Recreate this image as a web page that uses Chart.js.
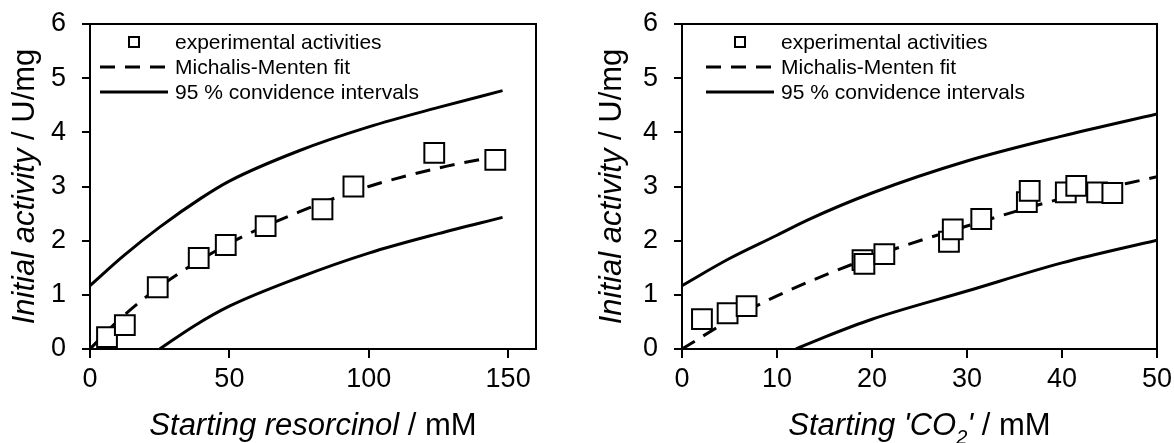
<!DOCTYPE html>
<html lang="en">
<head>
<meta charset="UTF-8">
<title>Initial activity vs. substrate</title>
<script src="https://cdn.jsdelivr.net/npm/chart.js@4/dist/chart.umd.min.js"></script>
<style>
  body { margin: 0; background: #fff; }
  #wrap { position: relative; width: 1174px; height: 443px; }
  canvas { position: absolute; top: 0; }
</style>
</head>
<body>
<div id="wrap">
  <canvas id="leftChart" width="587" height="443" style="left:0"></canvas>
  <canvas id="rightChart" width="587" height="443" style="left:587px"></canvas>
</div>
<script>
// left panel - starting resorcinol (mM)
const resX = [6.1, 12.5, 24.3, 39, 48.7, 63, 83.4, 94.5, 123.5, 145.4];
const resY = [0.22, 0.44, 1.14, 1.68, 1.92, 2.27, 2.58, 3.0, 3.62, 3.49];
const resFitX = [0, 10, 25, 50, 75, 100, 125, 148];
const resFitY = [0, 0.52, 1.15, 1.95, 2.53, 3.0, 3.34, 3.58];
const resUpX = [0, 12, 25, 40, 50, 75, 100, 125, 148];
const resUpY = [1.17, 1.72, 2.25, 2.79, 3.1, 3.66, 4.1, 4.46, 4.77];
const resLoX = [25, 37.5, 50, 75, 100, 125, 148];
const resLoY = [0, 0.43, 0.79, 1.32, 1.77, 2.13, 2.43];

// right panel - starting 'CO2' (mM)
const co2X = [2.1, 4.8, 6.8, 19.0, 19.2, 21.3, 28.1, 28.5, 31.5, 36.3, 36.6, 40.4, 41.5, 43.7, 45.3];
const co2Y = [0.55, 0.66, 0.79, 1.64, 1.57, 1.75, 1.98, 2.21, 2.4, 2.71, 2.92, 2.89, 3.01, 2.89, 2.88];
const co2FitX = [0, 5, 10, 20, 30, 40, 50];
const co2FitY = [0, 0.53, 0.98, 1.7, 2.27, 2.78, 3.18];
const co2UpX = [0, 5, 10, 13.2, 20, 30, 40, 50];
const co2UpY = [1.17, 1.67, 2.1, 2.38, 2.88, 3.47, 3.93, 4.34];
const co2LoX = [12, 15, 20, 30, 40, 50];
const co2LoY = [0, 0.22, 0.55, 1.07, 1.59, 2.01];

const legendLabels = ['experimental activities', 'Michalis-Menten fit', '95 % convidence intervals'];

const FONT = "'Liberation Sans', Arial, sans-serif";

function pts(xs, ys) {
    return xs.map((x, i) => ({ x: x, y: ys[i] }));
}

function drawRuns(ctx, runs, cx, y, size) {
    const fontOf = r => (r.italic ? 'italic ' : '') + (r.sub ? Math.round(size * 0.65) : size) + 'px ' + FONT;
    let total = 0;
    runs.forEach(r => { ctx.font = fontOf(r); total += ctx.measureText(r.t).width; });
    let x = cx - total / 2;
    ctx.textAlign = 'left';
    ctx.textBaseline = 'alphabetic';
    runs.forEach(r => {
        ctx.font = fontOf(r);
        ctx.fillText(r.t, x, r.sub ? y + size * 0.28 : y);
        x += ctx.measureText(r.t).width;
    });
}

// frame, axis titles and the in-plot legend
const decor = {
    id: 'decor',
    afterDraw(chart, args, o) {
        const ctx = chart.ctx;
        const a = chart.chartArea;
        ctx.save();
        ctx.strokeStyle = '#000';
        ctx.fillStyle = '#000';
        ctx.lineWidth = 2;
        ctx.beginPath();
        ctx.moveTo(a.left, a.top);
        ctx.lineTo(a.right, a.top);
        ctx.lineTo(a.right, a.bottom);
        ctx.stroke();

        drawRuns(ctx, o.xTitle, (a.left + a.right) / 2, 435, 31);

        // legend
        const lx = a.left + o.legendX;
        const rows = [42, 67, 92];
        ctx.lineWidth = 2;
        ctx.fillStyle = '#fff';
        ctx.fillRect(lx + 34 - 5, rows[0] - 5, 10, 10);
        ctx.strokeRect(lx + 34 - 5, rows[0] - 5, 10, 10);
        ctx.lineWidth = 3;
        ctx.setLineDash([15, 10]);
        ctx.beginPath();
        ctx.moveTo(lx, rows[1]);
        ctx.lineTo(lx + 68, rows[1]);
        ctx.stroke();
        ctx.setLineDash([]);
        ctx.beginPath();
        ctx.moveTo(lx, rows[2]);
        ctx.lineTo(lx + 68, rows[2]);
        ctx.stroke();
        ctx.fillStyle = '#000';
        ctx.font = '21px ' + FONT;
        ctx.textAlign = 'left';
        ctx.textBaseline = 'middle';
        legendLabels.forEach((t, i) => ctx.fillText(t, lx + 75, rows[i] + 1));

        ctx.translate(34, (a.top + a.bottom) / 2);
        ctx.rotate(-Math.PI / 2);
        ctx.fillStyle = '#000';
        drawRuns(ctx, o.yTitle, 0, 0, 31);
        ctx.restore();
    }
};

function makeChart(id, cfg) {
    const line = (data, dash) => ({
        data: data,
        showLine: true,
        borderColor: '#000',
        borderWidth: 3,
        borderDash: dash,
        pointRadius: 0,
        cubicInterpolationMode: 'monotone'
    });
    return new Chart(document.getElementById(id), {
        type: 'scatter',
        data: {
            datasets: [
                {
                    data: pts(cfg.x, cfg.y),
                    pointStyle: 'rect',
                    pointRadius: 14,
                    pointBorderWidth: 2,
                    pointBorderColor: '#000',
                    pointBackgroundColor: '#fff'
                },
                line(pts(cfg.fitX, cfg.fitY), [15, 10]),
                line(pts(cfg.upX, cfg.upY), []),
                line(pts(cfg.loX, cfg.loY), [])
            ]
        },
        options: {
            responsive: false,
            animation: false,
            devicePixelRatio: 1,
            layout: { padding: { top: 24, right: cfg.padRight, left: 0, bottom: 0 } },
            plugins: {
                legend: { display: false },
                tooltip: { enabled: false },
                decor: { xTitle: cfg.xTitle, yTitle: cfg.yTitle, legendX: cfg.legendX }
            },
            scales: {
                x: {
                    type: 'linear',
                    min: 0,
                    max: cfg.xMax,
                    ticks: {
                        stepSize: cfg.xStep,
                        includeBounds: false,
                        color: '#000',
                        font: { family: FONT, size: 27 },
                        padding: 5,
                        maxRotation: 0
                    },
                    grid: { drawOnChartArea: false, tickLength: 9, color: '#000', lineWidth: 2 },
                    border: { color: '#000', width: 2 },
                    afterFit: s => { s.height = 94; s.paddingLeft = 0; s.paddingRight = 0; }
                },
                y: {
                    min: 0,
                    max: 6,
                    ticks: {
                        stepSize: 1,
                        color: '#000',
                        font: { family: FONT, size: 27 },
                        padding: 16
                    },
                    grid: { drawOnChartArea: false, tickLength: 8, color: '#000', lineWidth: 2 },
                    border: { color: '#000', width: 2 },
                    afterFit: s => { s.width = cfg.yWidth; s.paddingTop = 0; s.paddingBottom = 0; }
                }
            }
        },
        plugins: [decor]
    });
}

makeChart('leftChart', {
    x: resX, y: resY, fitX: resFitX, fitY: resFitY,
    upX: resUpX, upY: resUpY, loX: resLoX, loY: resLoY,
    xMax: 160, xStep: 50, yWidth: 90, padRight: 51, legendX: 10,
    xTitle: [{ t: 'Starting resorcinol', italic: true }, { t: ' / mM' }],
    yTitle: [{ t: 'Initial activity', italic: true }, { t: ' / U/mg' }]
});

makeChart('rightChart', {
    x: co2X, y: co2Y, fitX: co2FitX, fitY: co2FitY,
    upX: co2UpX, upY: co2UpY, loX: co2LoX, loY: co2LoY,
    xMax: 50, xStep: 10, yWidth: 95, padRight: 17, legendX: 24,
    xTitle: [{ t: "Starting 'CO", italic: true }, { t: '2', italic: true, sub: true }, { t: "'", italic: true }, { t: ' / mM' }],
    yTitle: [{ t: 'Initial activity', italic: true }, { t: ' / U/mg' }]
});
</script>
</body>
</html>
